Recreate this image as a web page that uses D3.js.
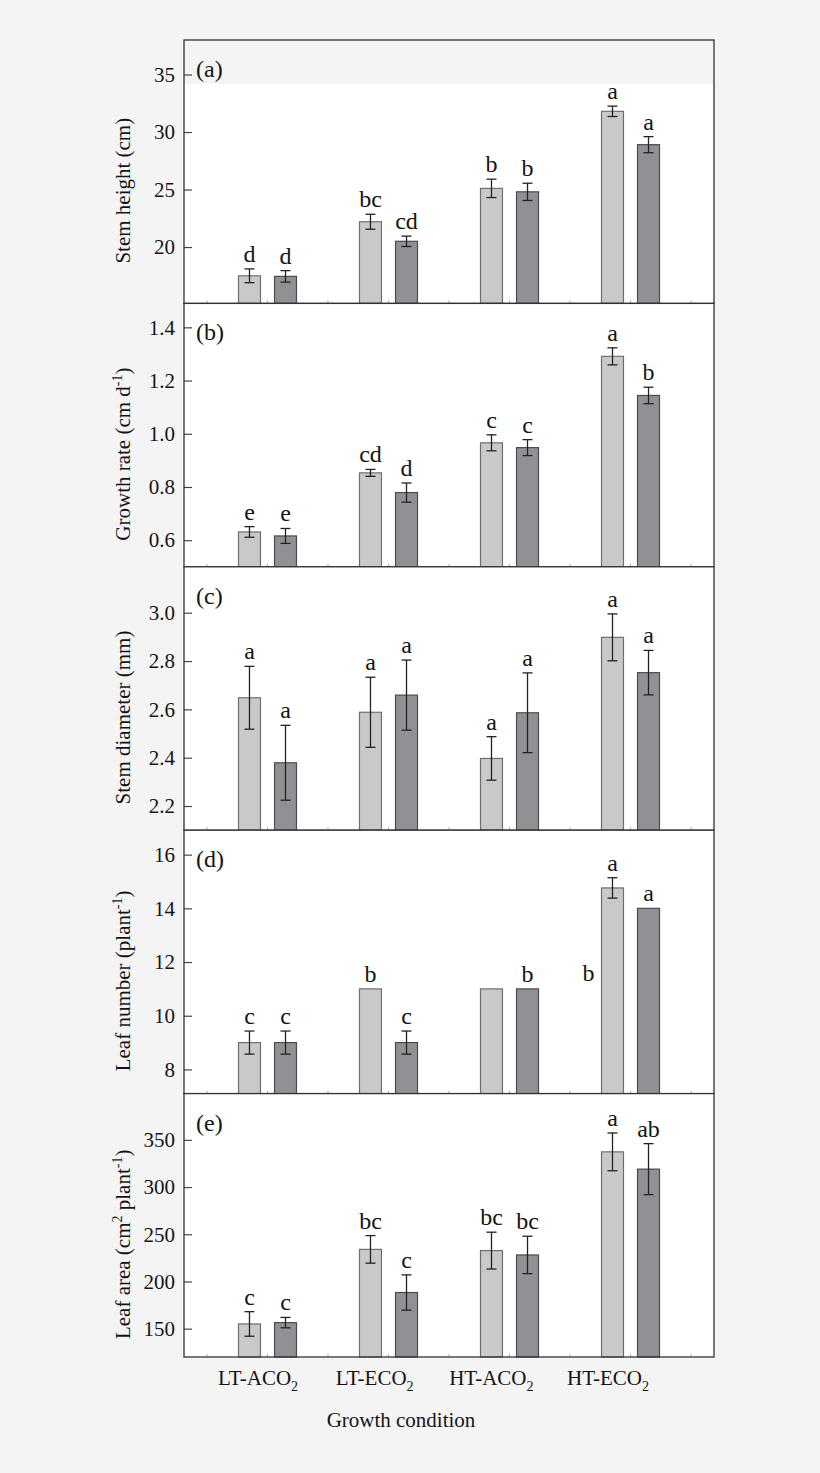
<!DOCTYPE html>
<html>
<head>
<meta charset="utf-8">
<script src="https://cdn.jsdelivr.net/npm/d3@7"></script>
<style>
	body { margin: 0; background: #f4f4f4; }
	svg { display: block; }
	text { font-family: "Liberation Serif", "Times New Roman", serif; fill: #141414; }
</style>
</head>
<body>
<div id="chart"></div>
<script>
// Categories and series
const conditions = ["LT-ACO2", "LT-ECO2", "HT-ACO2", "HT-ECO2"];
const seriesKeys = ["light", "dark"];

// Values per condition: [light, dark]
const heightMean = [[17.5, 17.45], [22.2, 20.5], [25.1, 24.8], [31.8, 28.9]];
const heightErr = [[0.6, 0.5], [0.65, 0.45], [0.8, 0.75], [0.45, 0.7]];
const heightLetters = [["d", "d"], ["bc", "cd"], ["b", "b"], ["a", "a"]];

const rateMean = [[0.631, 0.616], [0.853, 0.779], [0.966, 0.948], [1.291, 1.144]];
const rateErr = [[0.02, 0.028], [0.013, 0.036], [0.03, 0.03], [0.032, 0.031]];
const rateLetters = [["e", "e"], ["cd", "d"], ["c", "c"], ["a", "b"]];

const diamMean = [[2.648, 2.379], [2.588, 2.659], [2.397, 2.586], [2.898, 2.752]];
const diamErr = [[0.13, 0.155], [0.145, 0.145], [0.09, 0.165], [0.097, 0.092]];
const diamLetters = [["a", "a"], ["a", "a"], ["a", "a"], ["a", "a"]];

const leafNumMean = [[9, 9], [11, 9], [11, 11], [14.76, 14]];
const leafNumErr = [[0.43, 0.43], [0, 0.43], [0, 0], [0.38, 0]];
const leafNumLetters = [["c", "c"], ["b", "c"], ["", "b"], ["a", "a"]];
// the "b" of HT-ACO2 (light) sits left of the HT-ECO2 light bar in the original
const leafNumStray = { text: "b", value: 11, at: "HT-ECO2" };

const areaMean = [[155, 156.4], [234, 188.3], [232.7, 228.1], [337.3, 319]];
const areaErr = [[13, 5.5], [14.6, 18.7], [19.5, 19.8], [20, 27]];
const areaLetters = [["c", "c"], ["bc", "c"], ["bc", "bc"], ["a", "ab"]];

// Axis settings
const panelTags = ["(a)", "(b)", "(c)", "(d)", "(e)"];
const yDomains = [[15.1, 38.0], [0.5, 1.49], [2.1, 3.19], [7.1, 16.91], [120, 399]];
const yTicks = [
	[20, 25, 30, 35],
	[0.6, 0.8, 1.0, 1.2, 1.4],
	[2.2, 2.4, 2.6, 2.8, 3.0],
	[8, 10, 12, 14, 16],
	[150, 200, 250, 300, 350],
];
const yFormats = ["d", ".1f", ".1f", "d", "d"];
// title pieces: [text, "sup" | null]
const yTitles = [
	[["Stem height (cm)", null]],
	[["Growth rate (cm d", null], ["-1", "sup"], [")", null]],
	[["Stem diameter (mm)", null]],
	[["Leaf number (plant", null], ["-1", "sup"], [")", null]],
	[["Leaf area (cm", null], ["2", "sup"], [" plant", null], ["-1", "sup"], [")", null]],
];

const panels = [
	{ mean: heightMean, err: heightErr, letters: heightLetters },
	{ mean: rateMean, err: rateErr, letters: rateLetters },
	{ mean: diamMean, err: diamErr, letters: diamLetters },
	{ mean: leafNumMean, err: leafNumErr, letters: leafNumLetters, stray: leafNumStray },
	{ mean: areaMean, err: areaErr, letters: areaLetters },
];

const colors = { light: "#c8c9cb", dark: "#909194" };
const strokes = { light: "#6f6f6f", dark: "#4c4c4c" };

// Layout
const margin = { top: 40, left: 184 };
const width = 530;
const panelH = 263.4;

const svg = d3
	.select("#chart")
	.append("svg")
	.attr("width", 820)
	.attr("height", 1473);

const x0 = d3
	.scaleBand()
	.domain(conditions)
	.range([0, width])
	.paddingInner(0)
	.paddingOuter(0.19);

const bw = x0.bandwidth();
const x1 = d3
	.scaleBand()
	.domain(seriesKeys)
	.range([bw / 2 - 29, bw / 2 + 29])
	.paddingInner(0.39);

panels.forEach((p, i) => {
	const g = svg
		.append("g")
		.attr("transform", `translate(${margin.left},${margin.top + i * panelH})`);

	const y = d3.scaleLinear().domain(yDomains[i]).range([panelH, 0]);

	g.append("rect")
		.attr("width", width)
		.attr("height", panelH)
		.attr("fill", "#fff");

	// grey strip at the top of panel (a), as in the scanned figure
	if (i === 0) {
		g.append("rect")
			.attr("width", width)
			.attr("height", 44)
			.attr("fill", "#f4f4f4");
	}

	// small ticks along the bottom edge
	const minor = [];
	conditions.forEach((c) => {
		minor.push(x0(c), x0(c) + bw / 2);
	});
	minor.push(x0(conditions[3]) + bw);
	g.selectAll(".minor")
		.data(minor)
		.enter()
		.append("line")
		.attr("x1", (d) => d)
		.attr("x2", (d) => d)
		.attr("y1", panelH)
		.attr("y2", panelH - 3)
		.attr("stroke", "#b0b0b0")
		.attr("stroke-width", 1);

	// Y axis
	const yAxis = g
		.append("g")
		.call(
			d3
				.axisLeft(y)
				.tickValues(yTicks[i])
				.tickSize(-8)
				.tickPadding(9)
				.tickFormat(d3.format(yFormats[i]))
		);
	yAxis.select(".domain").remove();
	yAxis.selectAll(".tick line").attr("stroke", "#444").attr("stroke-width", 1.2);
	yAxis
		.selectAll(".tick text")
		.style("font-family", '"Liberation Serif", serif')
		.style("font-size", "21px")
		.attr("fill", "#141414");

	// Bars
	const groups = g
		.selectAll(".grp")
		.data(conditions)
		.enter()
		.append("g")
		.attr("transform", (c) => `translate(${x0(c)},0)`);

	const items = groups
		.selectAll(".item")
		.data((c, ci) =>
			seriesKeys.map((k, si) => ({
				key: k,
				mean: p.mean[ci][si],
				err: p.err[ci][si],
				letter: p.letters[ci][si],
			}))
		)
		.enter()
		.append("g");

	items
		.append("rect")
		.attr("x", (d) => x1(d.key))
		.attr("width", x1.bandwidth())
		.attr("y", (d) => y(d.mean))
		.attr("height", (d) => panelH - y(d.mean))
		.attr("fill", (d) => colors[d.key])
		.attr("stroke", (d) => strokes[d.key])
		.attr("stroke-width", 1.2);

	const withErr = items.filter((d) => d.err > 0);
	const cx = (d) => x1(d.key) + x1.bandwidth() / 2;
	withErr
		.append("line")
		.attr("x1", cx)
		.attr("x2", cx)
		.attr("y1", (d) => y(d.mean + d.err))
		.attr("y2", (d) => y(d.mean - d.err))
		.attr("stroke", "#222")
		.attr("stroke-width", 1.3);
	[1, -1].forEach((s) => {
		withErr
			.append("line")
			.attr("x1", (d) => cx(d) - 5)
			.attr("x2", (d) => cx(d) + 5)
			.attr("y1", (d) => y(d.mean + s * d.err))
			.attr("y2", (d) => y(d.mean + s * d.err))
			.attr("stroke", "#222")
			.attr("stroke-width", 1.3);
	});

	items
		.append("text")
		.attr("x", cx)
		.attr("y", (d) => y(d.mean + d.err) - 7)
		.attr("text-anchor", "middle")
		.style("font-size", "24px")
		.text((d) => d.letter);

	if (p.stray) {
		g.append("text")
			.attr("x", x0(p.stray.at) + x1("light") + x1.bandwidth() / 2 - 24)
			.attr("y", y(p.stray.value) - 8)
			.attr("text-anchor", "middle")
			.style("font-size", "24px")
			.text(p.stray.text);
	}

	// Frame
	g.append("rect")
		.attr("width", width)
		.attr("height", panelH)
		.attr("fill", "none")
		.attr("stroke", "#333")
		.attr("stroke-width", 1.3);

	// Panel tag
	g.append("text")
		.attr("x", 12)
		.attr("y", 37)
		.style("font-size", "24px")
		.text(panelTags[i]);

	// Y title
	const title = g
		.append("text")
		.attr("transform", `translate(${130 - margin.left},${panelH / 2 + 19}) rotate(-90)`)
		.attr("text-anchor", "middle")
		.style("font-size", "21px");
	let shifted = false;
	yTitles[i].forEach(([t, kind]) => {
		const ts = title.append("tspan").text(t);
		if (kind === "sup") {
			ts.attr("dy", shifted ? 0 : -8).style("font-size", "14px");
			shifted = true;
		} else {
			ts.attr("dy", shifted ? 8 : 0);
			shifted = false;
		}
	});
});

// X labels with subscript 2
const labelX = d3
	.scalePoint()
	.domain(conditions)
	.range([258 - margin.left, 608 - margin.left]);

const xl = svg.append("g").attr("transform", `translate(${margin.left},0)`);
conditions.forEach((c) => {
	const t = xl
		.append("text")
		.attr("x", labelX(c))
		.attr("y", margin.top + 5 * panelH + 28)
		.attr("text-anchor", "middle")
		.style("font-size", "21px");
	t.append("tspan").text(c.slice(0, -1));
	t.append("tspan").attr("dy", 6).style("font-size", "14px").text(c.slice(-1));
});

xl.append("text")
	.attr("x", 217)
	.attr("y", margin.top + 5 * panelH + 70)
	.attr("text-anchor", "middle")
	.style("font-size", "21px")
	.text("Growth condition");
</script>
</body>
</html>
